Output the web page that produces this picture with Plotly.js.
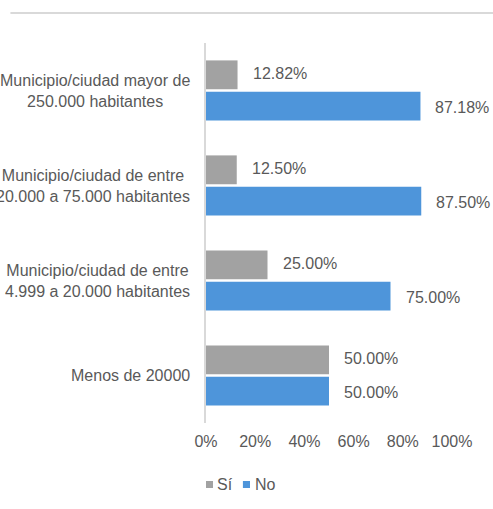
<!DOCTYPE html>
<html>
<head>
<meta charset="utf-8">
<script src="https://cdn.plot.ly/plotly-3.0.1.min.js"></script>
<style>html,body{margin:0;padding:0;background:#fff;}#chart{width:493px;height:509px;}</style>
</head>
<body>
<div id="chart"></div>
<script>
// Data
var categories = [
  "Municipio/ciudad mayor de 250.000 habitantes",
  "Municipio/ciudad de entre 20.000 a 75.000 habitantes",
  "Municipio/ciudad de entre 4.999 a 20.000 habitantes",
  "Menos de 20000"
];
var categoryLabels = [
  "Municipio/ciudad mayor de<br>250.000 habitantes",
  "Municipio/ciudad de entre<br>20.000 a 75.000 habitantes",
  "Municipio/ciudad de entre<br>4.999 a 20.000 habitantes",
  "Menos de 20000"
];
var seriesNames = ["Sí", "No"];
var siValues = [12.82, 12.50, 25.00, 50.00];
var noValues = [87.18, 87.50, 75.00, 50.00];
var xTickValues = [0, 20, 40, 60, 80, 100];
var xTickLabels = ["0%", "20%", "40%", "60%", "80%", "100%"];

var colors = ["#a2a2a2", "#4e95da"];
var textColor = "#595959";
var fontFam = "Liberation Sans, Arial, sans-serif";

var traces = [
  {type: "bar", orientation: "h", name: seriesNames[0], y: categories, x: siValues,
   marker: {color: colors[0]}, hoverinfo: "none"},
  {type: "bar", orientation: "h", name: seriesNames[1], y: categories, x: noValues,
   marker: {color: colors[1]}, hoverinfo: "none"}
];

var annotations = [];
// category labels (centered lines, right-aligned block)
categories.forEach(function (c, i) {
  annotations.push({xref: "paper", yref: "y", x: -0.058, y: c, xanchor: "right", yanchor: "middle",
    text: categoryLabels[i], align: "center", showarrow: false,
    font: {size: 16, color: textColor, family: fontFam}});
});
// data labels
[siValues, noValues].forEach(function (vals, s) {
  vals.forEach(function (v, i) {
    annotations.push({xref: "x", yref: "y", x: v, y: categories[i], xanchor: "left", yanchor: "middle",
      xshift: 13, yshift: s === 0 ? 17 : -17, text: v.toFixed(2) + "%", showarrow: false,
      font: {size: 16, color: textColor, family: fontFam}});
  });
});
// legend text
annotations.push({xref: "paper", yref: "paper", x: 0.036, y: -0.162, xanchor: "left", yanchor: "middle",
  text: seriesNames[0], showarrow: false, font: {size: 16, color: textColor, family: fontFam}});
annotations.push({xref: "paper", yref: "paper", x: 0.190, y: -0.162, xanchor: "left", yanchor: "middle",
  text: seriesNames[1], showarrow: false, font: {size: 16, color: textColor, family: fontFam}});

var shapes = [
  {type: "line", xref: "paper", yref: "paper", x0: -0.795, x1: 1.2, y0: 1.079, y1: 1.079,
   line: {color: "#d9d9d9", width: 2}},
  {type: "rect", xref: "paper", yref: "paper", x0: 0.0, x1: 0.0285, y0: -0.1526, y1: -0.171,
   line: {width: 0}, fillcolor: colors[0]},
  {type: "rect", xref: "paper", yref: "paper", x0: 0.150, x1: 0.1789, y0: -0.1526, y1: -0.171,
   line: {width: 0}, fillcolor: colors[1]}
];

var layout = {
  width: 493, height: 509,
  margin: {l: 206, r: 41, t: 43, b: 86, pad: 0},
  paper_bgcolor: "#ffffff", plot_bgcolor: "#ffffff",
  barmode: "group", bargap: 0.34, bargroupgap: 0.08,
  showlegend: false,
  font: {family: fontFam, size: 16, color: textColor},
  xaxis: {range: [0, 100], tickmode: "array", tickvals: xTickValues, ticktext: xTickLabels,
    showgrid: false, zeroline: false, ticklabelstandoff: 7,
    showline: false, ticks: "", tickfont: {size: 16, color: textColor}, fixedrange: true},
  yaxis: {type: "category", autorange: "reversed", showticklabels: false, showgrid: false, zeroline: false,
    showline: true, linecolor: "#d9d9d9", linewidth: 2, ticks: "", fixedrange: true},
  annotations: annotations,
  shapes: shapes
};

Plotly.newPlot("chart", traces, layout, {staticPlot: true, displayModeBar: false});
</script>
</body>
</html>
